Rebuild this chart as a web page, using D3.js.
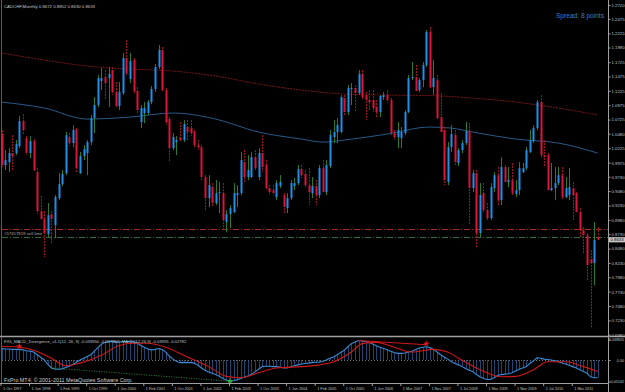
<!DOCTYPE html>
<html>
<head>
<meta charset="utf-8">
<script src="https://cdn.jsdelivr.net/npm/d3@7"></script>
<style>
  html, body { margin: 0; padding: 0; background: #000; overflow: hidden; }
  text { font-family: "Liberation Sans", Arial, sans-serif; }
</style>
</head>
<body>
<div id="chart"></div>
<script>
// CADCHF monthly candles, Oct 1997 .. Oct 2011 (one bar per month)
const opens = [
  1.0473, 0.9933, 0.9985, 1.0142, 1.0142, 1.0264, 1.0699, 1.0403, 1.0142, 1.0351,
  0.9811, 0.9131, 0.8992, 0.8731, 0.9079, 0.8887, 0.9358, 0.9602, 0.9793, 1.0420,
  1.0316, 1.0560, 0.9793, 1.0089, 1.0142, 1.0333, 1.0751, 1.0978, 1.1396, 1.1466,
  1.1448, 1.1588, 1.1204, 1.0961, 1.1187, 1.1797, 1.1431, 1.1762, 1.1222, 1.0682,
  1.0839, 1.0839, 1.1030, 1.1257, 1.1640, 1.1936, 1.1239, 1.0734, 1.0229, 1.0333,
  1.0420, 1.0368, 1.0595, 1.0577, 1.0508, 1.0281, 1.0246, 0.9724, 0.9358, 0.9549,
  0.9271, 0.9445, 0.9445, 0.8940, 0.9079, 0.9114, 0.9410, 0.9445, 0.9985, 0.9724,
  0.9724, 1.0072, 0.9724, 1.0142, 0.9933, 0.9532, 0.9497, 0.9375, 0.9567, 0.9410,
  0.9184, 0.9358, 0.9567, 0.9619, 0.9863, 0.9776, 0.9584, 0.9445, 0.9567, 0.9410,
  0.9880, 0.9462, 0.9915, 1.0420, 1.0508, 1.0508, 1.1100, 1.0856, 1.1257, 1.1274,
  1.1187, 1.1518, 1.1152, 1.1065, 1.1065, 1.0943, 1.0856, 1.1117, 1.1152, 1.1065,
  1.0490, 1.0420, 1.0403, 1.0490, 1.0856, 1.1448, 1.1466, 1.1239, 1.1413, 1.1675,
  1.2250, 1.1291, 1.1413, 1.0769, 1.0542, 0.9637, 1.0246, 1.0455, 0.9968, 1.0194,
  1.0316, 1.0525, 0.9532, 0.9793, 0.8748, 0.9445, 0.9149, 0.9009, 0.9532, 0.9758,
  0.9323, 0.9898, 0.9637, 0.9671, 0.9428, 0.9497, 0.9811, 0.9880, 1.0159, 1.0351,
  1.0577, 1.1030, 1.0107, 1.0107, 0.9497, 0.9532, 0.9619, 0.9758, 0.9375, 0.9410,
  0.9532, 0.9445, 0.9114, 0.8800, 0.8713, 0.8295, 0.8226, 0.8672
];
const highs = [
  1.0542, 1.0194, 1.0229, 1.0455, 1.0368, 1.0786, 1.0821, 1.0438, 1.0438, 1.0386,
  0.9880, 0.9393, 0.9131, 0.9271, 0.9131, 0.9410, 0.9793, 0.9846, 1.0508, 1.0490,
  1.0629, 1.0577, 1.0159, 1.0281, 1.0368, 1.0804, 1.1117, 1.1500, 1.1622, 1.1588,
  1.1640, 1.1640, 1.1379, 1.1379, 1.1884, 1.2110, 1.1884, 1.1797, 1.1291, 1.0978,
  1.1030, 1.1065, 1.1309, 1.1692, 1.2023, 1.1988, 1.1274, 1.0769, 1.0490, 1.0438,
  1.0682, 1.0717, 1.0717, 1.0717, 1.0542, 1.0368, 1.0281, 0.9758, 0.9758, 0.9619,
  0.9671, 0.9637, 0.9619, 0.9149, 0.9236, 0.9619, 0.9584, 1.0159, 1.0194, 1.0107,
  1.0159, 1.0194, 1.0229, 1.0455, 1.0020, 0.9584, 0.9584, 0.9671, 0.9758, 0.9445,
  0.9445, 0.9671, 0.9706, 0.9933, 0.9933, 0.9846, 0.9880, 0.9724, 0.9671, 0.9933,
  1.0020, 1.0020, 1.0542, 1.0717, 1.0751, 1.1152, 1.1152, 1.1326, 1.1361, 1.1326,
  1.1588, 1.1588, 1.1204, 1.1239, 1.1239, 1.1065, 1.1152, 1.1204, 1.1239, 1.1100,
  1.0542, 1.0682, 1.0595, 1.0891, 1.1500, 1.1727, 1.1675, 1.1448, 1.1727, 1.2284,
  1.2337, 1.1762, 1.1500, 1.1187, 1.0595, 1.0333, 1.0629, 1.0542, 1.0229, 1.0368,
  1.0682, 1.0664, 0.9846, 0.9846, 0.9619, 0.9619, 0.9271, 0.9619, 0.9811, 0.9898,
  1.0072, 0.9933, 0.9898, 0.9968, 0.9671, 0.9985, 0.9968, 1.0246, 1.0542, 1.0629,
  1.1065, 1.1152, 1.0368, 1.0142, 0.9968, 0.9898, 0.9898, 0.9898, 0.9724, 0.9880,
  0.9637, 0.9462, 0.9184, 0.8853, 0.8748, 0.8452, 0.8940, 0.8852
];
const lows = [
  0.9898, 0.9846, 0.9811, 0.9846, 1.0107, 1.0229, 1.0473, 1.0107, 1.0055, 0.9811,
  0.9079, 0.8975, 0.8330, 0.8678, 0.8574, 0.8661, 0.9323, 0.9567, 0.9758, 1.0264,
  1.0246, 0.9811, 0.9776, 1.0020, 0.9758, 1.0281, 1.0490, 1.0943, 1.1239, 1.1065,
  1.0943, 1.1152, 1.0943, 1.0891, 1.1152, 1.1500, 1.1361, 1.1187, 1.0839, 1.0577,
  1.0664, 1.0804, 1.0995, 1.1204, 1.1605, 1.1204, 1.0629, 0.9985, 1.0194, 1.0107,
  1.0351, 1.0333, 1.0368, 1.0438, 1.0229, 1.0194, 0.9671, 0.9149, 0.9201, 0.9201,
  0.9236, 0.9097, 0.8800, 0.8766, 0.8835, 0.9097, 0.9201, 0.9410, 0.9619, 0.9671,
  0.9706, 0.9846, 0.9671, 0.9811, 0.9497, 0.9410, 0.9410, 0.9323, 0.9532, 0.9097,
  0.9097, 0.9323, 0.9497, 0.9584, 0.9706, 0.9549, 0.9236, 0.9358, 0.9236, 0.9358,
  0.9445, 0.9410, 0.9880, 1.0316, 1.0316, 1.0490, 1.0804, 1.0804, 1.0978, 1.0856,
  1.1152, 1.1065, 1.0717, 1.0891, 1.0856, 1.0769, 1.0769, 1.1065, 1.1013, 1.0455,
  1.0368, 1.0229, 1.0229, 1.0455, 1.0839, 1.1413, 1.1204, 1.1204, 1.1291, 1.1640,
  1.1274, 1.1152, 1.0717, 1.0508, 0.9584, 0.9584, 1.0159, 0.9933, 0.9915, 1.0142,
  1.0281, 0.8887, 0.9462, 0.8487, 0.8661, 0.9097, 0.8975, 0.8975, 0.9462, 0.9236,
  0.9236, 0.9619, 0.9549, 0.9410, 0.9375, 0.9410, 0.9793, 0.9846, 1.0142, 1.0316,
  1.0542, 1.0072, 0.9898, 0.9497, 0.9480, 0.9323, 0.9584, 0.9323, 0.9358, 0.9323,
  0.8975, 0.9097, 0.8678, 0.8400, 0.7929, 0.7093, 0.7842, 0.8630
];
const closes = [
  0.9933, 1.0020, 1.0142, 1.0089, 1.0299, 1.0699, 1.0542, 1.0142, 1.0351, 0.9846,
  0.9131, 0.8992, 0.8748, 0.9062, 0.8992, 0.9375, 0.9602, 0.9776, 1.0455, 1.0316,
  1.0542, 0.9880, 1.0089, 1.0211, 1.0333, 1.0751, 1.0978, 1.1448, 1.1448, 1.1361,
  1.1518, 1.1204, 1.0961, 1.1204, 1.1797, 1.1535, 1.1744, 1.1222, 1.0891, 1.0926,
  1.0926, 1.1030, 1.1257, 1.1640, 1.1936, 1.1239, 1.0682, 1.0229, 1.0420, 1.0368,
  1.0368, 1.0647, 1.0508, 1.0490, 1.0281, 1.0246, 0.9724, 0.9358, 0.9584, 0.9271,
  0.9445, 0.9462, 0.8975, 0.9079, 0.9184, 0.9445, 0.9445, 1.0020, 0.9724, 0.9846,
  1.0072, 0.9880, 1.0142, 0.9898, 0.9532, 0.9462, 0.9445, 0.9619, 0.9637, 0.9201,
  0.9358, 0.9619, 0.9619, 0.9863, 0.9758, 0.9584, 0.9462, 0.9567, 0.9410, 0.9880,
  0.9462, 0.9933, 1.0455, 1.0508, 1.0629, 1.1117, 1.0856, 1.1274, 1.1274, 1.1187,
  1.1518, 1.1117, 1.1065, 1.1030, 1.0926, 1.0856, 1.1135, 1.1152, 1.1065, 1.0490,
  1.0420, 1.0542, 1.0508, 1.0856, 1.1448, 1.1466, 1.1222, 1.1413, 1.1675, 1.2250,
  1.1291, 1.1448, 1.0751, 1.0508, 0.9671, 1.0246, 1.0473, 0.9985, 1.0194, 1.0316,
  1.0525, 0.9532, 0.9793, 0.8748, 0.9410, 0.9149, 0.9009, 0.9549, 0.9758, 0.9323,
  0.9898, 0.9637, 0.9671, 0.9445, 0.9497, 0.9880, 0.9880, 1.0194, 1.0368, 1.0577,
  1.1030, 1.0107, 1.0072, 0.9497, 0.9532, 0.9619, 0.9758, 0.9375, 0.9532, 0.9549,
  0.9410, 0.9114, 0.8800, 0.8713, 0.8191, 0.8226, 0.8626, 0.8633
];

// moving averages, read at some bars
const maSlowBars = [0, 12, 24, 36, 48, 60, 72, 84, 96, 108, 120, 132, 144, 156, 167];
const maSlow = [1.1884, 1.1762, 1.1657, 1.1605, 1.1570, 1.1483, 1.1344, 1.1239, 1.1170, 1.1152, 1.1143, 1.1100, 1.1030, 1.0926, 1.0804];
const maFastBars = [0, 12, 24, 36, 48, 60, 72, 84, 90, 96, 108, 120, 126, 132, 144, 156, 167];
const maFast = [1.1030, 1.0926, 1.0734, 1.0769, 1.0839, 1.0734, 1.0508, 1.0386, 1.0333, 1.0368, 1.0473, 1.0595, 1.0577, 1.0508, 1.0386, 1.0316, 1.0142];

// MACD main, one value per bar
const macdMain = [
  0.026, 0.025, 0.025, 0.024, 0.024, 0.024, 0.023, 0.021, 0.020, 0.018, 0.012, 0.006, 0.000,
  -0.010, -0.018, -0.021, -0.021, -0.020, -0.017, -0.014, -0.010, -0.005, 0.000, 0.004, 0.008, 0.012,
  0.020, 0.028, 0.036, 0.040, 0.042, 0.042, 0.041, 0.041, 0.042, 0.042, 0.042, 0.041, 0.039,
  0.033, 0.029, 0.025, 0.023, 0.024, 0.026, 0.024, 0.018, 0.009, 0.002, -0.003, -0.006, -0.006,
  -0.006, -0.006, -0.007, -0.012, -0.018, -0.023, -0.027, -0.030, -0.033, -0.037, -0.042, -0.046, -0.048,
  -0.047, -0.045, -0.042, -0.039, -0.036, -0.033, -0.027, -0.021, -0.015, -0.014, -0.014, -0.015, -0.015,
  -0.016, -0.018, -0.018, -0.016, -0.013, -0.011, -0.009, -0.008, -0.007, -0.006, -0.005, -0.005, -0.003,
  0.000, 0.004, 0.007, 0.012, 0.017, 0.022, 0.030, 0.037, 0.041, 0.044, 0.043, 0.042, 0.040,
  0.036, 0.032, 0.029, 0.026, 0.023, 0.020, 0.017, 0.015, 0.015, 0.016, 0.018, 0.020, 0.024,
  0.027, 0.029, 0.030, 0.028, 0.024, 0.018, 0.012, 0.007, 0.002, -0.004, -0.008, -0.011, -0.015,
  -0.019, -0.023, -0.026, -0.033, -0.038, -0.042, -0.044, -0.044, -0.040, -0.035, -0.033, -0.032, -0.031,
  -0.029, -0.025, -0.021, -0.018, -0.015, -0.008, -0.002, 0.005, 0.004, 0.002, 0.001, 0.000, -0.002,
  -0.004, -0.007, -0.009, -0.012, -0.015, -0.018, -0.022, -0.026, -0.030, -0.038, -0.040, -0.040
];
// MACD signal, read at some bars
const signalBars = [0, 5, 9, 14, 18, 22, 28, 33, 37, 41, 46, 52, 58, 63, 67, 72, 77, 84, 89, 93, 98, 101, 105, 110, 115, 121, 125, 128, 134, 140, 144, 149, 153, 158, 163, 167];
const signal = [0.031, 0.029, 0.022, 0.004, -0.013, -0.007, 0.011, 0.033, 0.038, 0.038, 0.029, 0.007, -0.015, -0.037, -0.040, -0.029, -0.018, -0.015, -0.011, -0.004, 0.018, 0.037, 0.040, 0.029, 0.018, 0.024, 0.018, 0.004, -0.022, -0.038, -0.037, -0.022, -0.004, -0.004, -0.015, -0.026];

// divergence links (bar indices)
const bearDivergence = [100, 119];
const bullDivergence = [14, 64];
const bearArrows = [5, 119];
const bullArrows = [64];

// pending order lines
const orderLevels = [0.8813, 0.8684];

const priceTicks = [1.2720, 1.2475, 1.2225, 1.1980, 1.1725, 1.1475, 1.1225, 1.0975, 1.0725, 1.0480, 1.0225, 0.9975,
  0.9730, 0.9480, 0.9230, 0.8980, 0.8730, 0.8480, 0.8230, 0.7980, 0.7730, 0.7480, 0.7230, 0.6980];
const macdTicks = [0.0466, 0, -0.0485];
const macdTickLabels = ["0.049805", "0.00", "-0.05162"];
const dateLabels = ["1 Oct 1997", "1 Jun 1998", "1 Feb 1999", "1 Oct 1999", "1 Jun 2000", "1 Feb 2001", "1 Oct 2001",
  "1 Jun 2002", "1 Feb 2003", "1 Oct 2003", "1 Jun 2004", "1 Feb 2005", "1 Oct 2005", "1 Jun 2006", "1 Mar 2007",
  "1 Nov 2007", "1 Jul 2008", "1 Mar 2009", "1 Nov 2009", "1 Jul 2010", "1 Mar 2011"];
const dateBars = dateLabels.map((d, i) => i * 8);

const width = 625,
    height = 392,
    axisX = 608,
    mainBottom = 336,
    macdBottom = 383;

const bars = opens.map((o, i) => ({ i, o, h: highs[i], l: lows[i], c: closes[i] }));

const x = d3.scaleLinear().domain([0, 167]).range([1.5, 597.7]);
const y = d3.scaleLinear().domain([0.6980, 1.2720]).range([334.7, 5]);
const ym = d3.scaleLinear().domain([-0.0516, 0.0498]).range([382.8, 338]);

const svg = d3.select("#chart")
    .append("svg")
    .attr("width", width)
    .attr("height", height)
    .style("background", "#000")
    .style("display", "block");

// pane frames
svg.append("line").attr("x1", 1.5).attr("x2", 1.5).attr("y1", 0).attr("y2", macdBottom)
    .attr("stroke", "#5a5a5a");
svg.append("line").attr("x1", 0).attr("x2", width).attr("y1", mainBottom + 0.5).attr("y2", mainBottom + 0.5)
    .attr("stroke", "#a0a0a0").attr("stroke-width", 1.6);

const main = svg.append("g").attr("clip-path", "url(#clipMain)");
svg.append("clipPath").attr("id", "clipMain")
    .append("rect").attr("x", 2).attr("y", 0).attr("width", axisX - 2).attr("height", mainBottom);

// order lines
main.selectAll("line.order")
    .data(orderLevels)
    .join("line")
    .attr("class", "order")
    .attr("x1", 2).attr("x2", axisX)
    .attr("y1", d => Math.round(y(d)) + 0.5)
    .attr("y2", d => Math.round(y(d)) + 0.5)
    .attr("stroke", (d, i) => i ? "#2f6b3c" : "#a82a1e")
    .attr("stroke-dasharray", "6,2,1,2");

main.append("text")
    .attr("x", 4).attr("y", y(orderLevels[1]) - 2)
    .attr("font-size", 4.3)
    .attr("fill", "#a8a8a8")
    .text("#57657819 sell limit");

// moving averages
const maLine = d3.line().x(d => x(d[0])).y(d => y(d[1])).curve(d3.curveMonotoneX);
main.append("path")
    .attr("d", maLine(maSlowBars.map((b, i) => [b, maSlow[i]])))
    .attr("fill", "none")
    .attr("stroke", "#7a1616")
    .attr("stroke-dasharray", "2,1");
main.append("path")
    .attr("d", maLine(maFastBars.map((b, i) => [b, maFast[i]])))
    .attr("fill", "none")
    .attr("stroke", "#275a8a");

// candles
const px = i => Math.round(x(i));

main.append("g")
    .selectAll("line")
    .data(bars)
    .join("line")
    .attr("x1", d => px(d.i) + 0.5)
    .attr("x2", d => px(d.i) + 0.5)
    .attr("y1", d => y(d.h))
    .attr("y2", d => y(d.l))
    .attr("stroke", d => d.c >= d.o ? "#2d7a2d" : "#a01818")
    .attr("stroke-dasharray", d => d.c >= d.o ? null : "2,1");

main.append("g")
    .selectAll("rect")
    .data(bars)
    .join("rect")
    .attr("x", d => px(d.i) - 0.5)
    .attr("width", 2)
    .attr("y", d => y(Math.max(d.o, d.c)))
    .attr("height", d => Math.max(1, Math.abs(y(d.o) - y(d.c))))
    .attr("fill", d => d.c >= d.o ? "#1e90e8" : "#dc143c");

// price axis
const yAxis = svg.append("g")
    .attr("transform", `translate(${axisX + 0.5},0)`)
    .call(d3.axisRight(y).tickValues(priceTicks).tickFormat(d3.format(".4f")).tickSize(2).tickPadding(1));
yAxis.select(".domain").attr("stroke", "#a0a0a0").attr("d", `M0,0V${height}`);
yAxis.selectAll(".tick line").attr("stroke", "#a0a0a0");
yAxis.selectAll("text").attr("fill", "#c0c0c0").attr("font-size", 4.3);

// last price tag
const last = closes[closes.length - 1];
svg.append("rect")
    .attr("x", axisX + 1).attr("y", y(last) - 2.6)
    .attr("width", 16).attr("height", 5.2)
    .attr("fill", "#c8c8c8");
svg.append("text")
    .attr("x", axisX + 2.5).attr("y", y(last))
    .attr("dominant-baseline", "middle")
    .attr("font-size", 4.3)
    .attr("fill", "#000")
    .text(d3.format(".4f")(last));

// texts
svg.append("text")
    .attr("x", 4).attr("y", 8)
    .attr("font-size", 4.3)
    .attr("fill", "#c8c8c8")
    .text("CADCHF,Monthly  0.8672 0.8852 0.8630 0.8633");

svg.append("text")
    .attr("x", 604).attr("y", 18)
    .attr("text-anchor", "end")
    .attr("font-size", 6.6)
    .attr("fill", "#3c7fc4")
    .text("Spread: 8 points");

// MACD pane
const macd = svg.append("g");

macd.append("line")
    .attr("x1", 2).attr("x2", axisX)
    .attr("y1", Math.round(ym(0)) + 0.5).attr("y2", Math.round(ym(0)) + 0.5)
    .attr("stroke", "#707070")
    .attr("stroke-dasharray", "1,2");

macd.append("g")
    .selectAll("line")
    .data(macdMain)
    .join("line")
    .attr("x1", (d, i) => px(i) + 0.5)
    .attr("x2", (d, i) => px(i) + 0.5)
    .attr("y1", ym(0))
    .attr("y2", d => ym(d))
    .attr("stroke", "#2a66a0")
    .attr("stroke-width", 0.7);

macd.append("path")
    .attr("d", d3.line().x((d, i) => x(i)).y(d => ym(d))(macdMain))
    .attr("fill", "none")
    .attr("stroke", "#3a8ad6")
    .attr("stroke-width", 1.1);

macd.append("path")
    .attr("d", d3.line().x(d => x(d[0])).y(d => ym(d[1])).curve(d3.curveMonotoneX)(signalBars.map((b, i) => [b, signal[i]])))
    .attr("fill", "none")
    .attr("stroke", "#d01818")
    .attr("stroke-width", 1.1);

macd.append("line")
    .attr("x1", x(bearDivergence[0])).attr("y1", ym(macdMain[bearDivergence[0]]))
    .attr("x2", x(bearDivergence[1])).attr("y2", ym(macdMain[bearDivergence[1]]) - 2)
    .attr("stroke", "#d01818")
    .attr("stroke-width", 1);

macd.append("line")
    .attr("x1", x(bullDivergence[0])).attr("y1", ym(macdMain[bullDivergence[0]]))
    .attr("x2", x(bullDivergence[1])).attr("y2", ym(macdMain[bullDivergence[1]]))
    .attr("stroke", "#2a8a3a")
    .attr("stroke-dasharray", "1,1.5");

macd.selectAll("path.bear")
    .data(bearArrows)
    .join("path")
    .attr("class", "bear")
    .attr("transform", d => `translate(${x(d)},${ym(macdMain[d]) - 3})`)
    .attr("d", d3.symbol(d3.symbolStar, 14))
    .attr("fill", "#e01818");

macd.selectAll("path.bull")
    .data(bullArrows)
    .join("path")
    .attr("class", "bull")
    .attr("transform", d => `translate(${x(d)},${ym(macdMain[d])})`)
    .attr("d", d3.symbol(d3.symbolStar, 14))
    .attr("fill", "#30b040");

macd.append("text")
    .attr("x", 4).attr("y", 343)
    .attr("font-size", 4.2)
    .attr("fill", "#c0c0c0")
    .text("FX5_MACD_Divergence_v1.1(12, 26, 9) -0.039550 -0.027862 -MACD(12,26,9) -0.03955 -0.02782");

const mAxis = svg.append("g")
    .attr("transform", `translate(${axisX + 0.5},0)`)
    .call(d3.axisRight(ym).tickValues(macdTicks).tickFormat((d, i) => macdTickLabels[i]).tickSize(2).tickPadding(1));
mAxis.select(".domain").remove();
mAxis.selectAll(".tick line").attr("stroke", "#a0a0a0");
mAxis.selectAll("text")
    .attr("x", width - axisX - 1.5)
    .attr("text-anchor", "end")
    .attr("fill", "#c0c0c0")
    .attr("font-size", 3.7);

svg.append("text")
    .attr("x", 4).attr("y", 382)
    .attr("font-size", 5.4)
    .attr("fill", "#d0d0d0")
    .text("FxPro MT4, \u00a9 2001-2011 MetaQuotes Software Corp.");

// date axis
svg.append("line").attr("x1", 0).attr("x2", axisX).attr("y1", macdBottom + 0.5).attr("y2", macdBottom + 0.5)
    .attr("stroke", "#a0a0a0");
const xAxis = svg.append("g")
    .attr("transform", `translate(0,${macdBottom})`)
    .call(d3.axisBottom(x).tickValues(dateBars).tickFormat((d, i) => dateLabels[i]).tickSize(3).tickPadding(1));
xAxis.select(".domain").remove();
xAxis.selectAll(".tick line").attr("stroke", "#a0a0a0").attr("transform", "translate(-1,0)");
xAxis.selectAll("text")
    .attr("text-anchor", "start")
    .attr("dx", 1)
    .attr("fill", "#c0c0c0")
    .attr("font-size", 3.8);
</script>
</body>
</html>
